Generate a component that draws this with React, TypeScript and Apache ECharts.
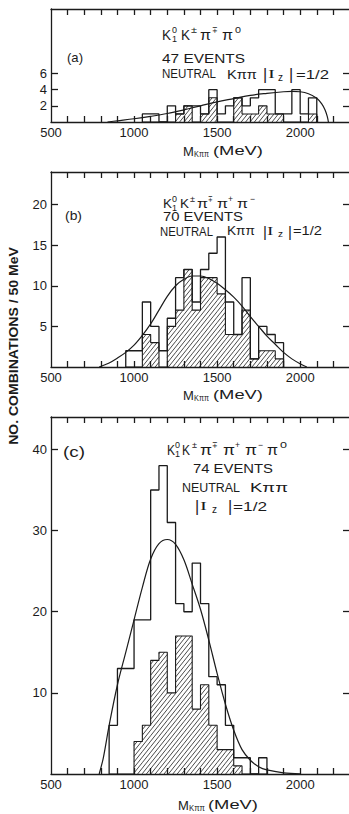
import React, { useEffect, useRef } from 'react';
import * as echarts from 'echarts';

const INK = '#1b1b1b';
const FONT = 'Liberation Sans';
const BIN_WIDTH = 50;

// ---- x axis (MeV) ----
const X_MIN = 500;
const X_MAX = 2300;
const xTickValues = [600, 700, 800, 900, 1000, 1100, 1200, 1300, 1400, 1500, 1600, 1700, 1800, 1900, 2000, 2100, 2200];
const xLabelValues = [500, 1000, 1500, 2000];

// ---- panel (a): K1 K pi pi pi0, 47 events ----
const binsA = [1050, 1100, 1150, 1200, 1250, 1300, 1350, 1400, 1450, 1500, 1550, 1600, 1650, 1700, 1750, 1800, 1850, 1900, 1950, 2000, 2050];
const totalA = [1, 1, 0, 2, 1, 2, 2, 1, 4, 1, 2, 3, 2, 3, 4, 4, 1, 1, 4, 1, 3];
const hatchA = [0, 0, 0, 0, 1, 2, 0, 1, 3, 0, 0, 3, 1, 1, 2, 1, 1, 0, 0, 0, 1];
const fitMassA = [840, 900, 1000, 1100, 1200, 1300, 1400, 1500, 1600, 1700, 1800, 1900, 1950, 2000, 2050, 2100, 2130, 2150, 2163, 2170];
const fitCountA = [0, 0.15, 0.4, 0.7, 1.05, 1.5, 2.0, 2.5, 2.9, 3.3, 3.55, 3.75, 3.8, 3.75, 3.5, 2.95, 2.25, 1.5, 0.7, 0];
const yTicksA = [2, 4, 6];
const yMaxA = 14;

// ---- panel (b): K1 K pi pi+ pi-, 70 events ----
const binsB = [950, 1000, 1050, 1100, 1150, 1200, 1250, 1300, 1350, 1400, 1450, 1500, 1550, 1600, 1650, 1700, 1750, 1800, 1850];
const totalB = [2, 2, 8, 5, 2, 6, 11, 12, 8, 12, 14, 16, 8, 4, 11, 1, 5, 4, 3];
const hatchB = [0, 0, 4, 3, 0, 5, 7, 12, 7, 11, 11, 9, 4, 4, 7, 1, 2, 2, 1];
const fitMassB = [790, 850, 900, 950, 1000, 1050, 1100, 1150, 1200, 1250, 1300, 1350, 1400, 1450, 1500, 1550, 1600, 1650, 1700, 1750, 1800, 1850, 1900, 1950, 2000, 2040];
const fitCountB = [0, 0.5, 1.1, 1.8, 2.7, 3.9, 5.3, 7.0, 8.7, 10.0, 10.8, 11.2, 11.2, 10.9, 10.3, 9.5, 8.6, 7.5, 6.2, 5.0, 3.8, 2.8, 1.8, 1.0, 0.4, 0];
const yTicksB = [5, 10, 15, 20];
const yMaxB = 24;

// ---- panel (c): K1 K pi pi+ pi- pi0, 74 events ----
const binsC = [850, 900, 950, 1000, 1050, 1100, 1150, 1200, 1250, 1300, 1350, 1400, 1450, 1500, 1550, 1600, 1650, 1700, 1750];
const totalC = [6, 13, 13, 19, 19, 35, 38, 31, 21, 20, 26, 21, 12, 11, 6, 2, 2, 0, 2];
const hatchC = [0, 0, 0, 4, 6, 14, 15, 10, 17, 17, 8, 11, 6, 3, 3, 1, 0, 0, 0];
const fitMassC = [790, 815, 850, 900, 950, 1000, 1050, 1100, 1150, 1200, 1250, 1300, 1350, 1400, 1450, 1500, 1550, 1600, 1650, 1700, 1750, 1800, 1900, 2000];
const fitCountC = [0, 2, 6, 11, 15, 19, 23, 26.5, 28.4, 28.9, 28.3, 26.4, 23.4, 20.3, 16.5, 12.4, 8.6, 5.4, 3.0, 1.7, 0.9, 0.5, 0.15, 0.02];
const yTicksC = [10, 20, 30, 40];
const yMaxC = 44;

// ---- helpers ----
function stepPoints(bins: number[], counts: number[]) {
  const pts: number[][] = [[bins[0], 0]];
  bins.forEach((b, i) => {
    pts.push([b, counts[i]]);
    pts.push([b + BIN_WIDTH, counts[i]]);
  });
  pts.push([bins[bins.length - 1] + BIN_WIDTH, 0]);
  return pts;
}

const HATCH_STEP = 4.4;
const HATCH_SLOPE = 1.25;
function renderHatch(params: any, api: any) {
  const x0 = api.value(0);
  const v = api.value(1);
  if (!v) return null;
  const pA = api.coord([x0, 0]);
  const pB = api.coord([x0 + BIN_WIDTH, v]);
  const a = pA[0], b = pB[0], B = pA[1], t = pB[1];
  const s = HATCH_SLOPE;
  const cMin = a + t / s;
  const cMax = b + B / s;
  const children: any[] = [];
  for (let k = Math.ceil(cMin / HATCH_STEP); k * HATCH_STEP <= cMax; k++) {
    const c = k * HATCH_STEP;
    const xl = Math.max(a, c - B / s);
    const xh = Math.min(b, c - t / s);
    if (xh - xl > 0.3) {
      children.push({
        type: 'line',
        shape: { x1: xl, y1: s * (c - xl), x2: xh, y2: s * (c - xh) },
        style: { stroke: INK, lineWidth: 0.8 },
      });
    }
  }
  return { type: 'group', children };
}

let measureCtx: CanvasRenderingContext2D | null = null;
function measure(text: string, font: string) {
  if (!measureCtx) measureCtx = document.createElement('canvas').getContext('2d');
  if (!measureCtx) return text.length * 7;
  measureCtx.font = font;
  return measureCtx.measureText(text).width || 1;
}

function T(text: string, x1: number, x2: number | null, yc: number, size: number, family = FONT, weight = 'normal') {
  const font = `${weight} ${size}px "${family}"`;
  let sx = 1;
  if (x2 != null) {
    sx = (x2 - x1) / measure(text, font);
    sx = Math.max(0.6, Math.min(1.6, sx));
  }
  return {
    type: 'text',
    x: x1,
    y: yc,
    scaleX: sx,
    silent: true,
    style: { text, font, fill: INK, textAlign: 'left', textVerticalAlign: 'middle' },
  };
}

function formula(spec: any[], yc: number, size: number) {
  const els: any[] = [];
  spec.forEach((g) => {
    els.push(T(g.m, g.mx[0], g.mx[1], yc, size));
    if (g.sup) els.push(T(g.sup, g.sx[0], g.sx[1], yc - 5, 9));
    if (g.sub) els.push(T(g.sub, g.sx[0], null, yc + 4, 9));
  });
  return els;
}

function iz(xBar1: number, xI: number[], xz: number[], xBar2: number, xEq: number[], yc: number, size: number) {
  return [
    T('|', xBar1, null, yc, size + 3),
    T('I', xI[0], xI[1], yc, size, 'Liberation Serif'),
    T('z', xz[0], xz[1], yc + 3, size - 3),
    T('|', xBar2, null, yc, size + 3),
    T('=1/2', xEq[0], xEq[1], yc, size),
  ];
}

function massTitle(xm: number, xs: number[], xu: number[], yc: number) {
  return [
    T('M', xm, null, yc, 13),
    T('Kππ', xs[0], xs[1], yc + 3, 9),
    T('(MeV)', xu[0], xu[1], yc, 12),
  ];
}

const App: React.FC = () => {
  const ref = useRef<HTMLDivElement>(null);

  useEffect(() => {
    if (!ref.current) return;
    const chart = echarts.init(ref.current, null, { renderer: 'svg' });

    const panels = [
      { top: 9, height: 113, yMax: yMaxA, yTicks: yTicksA, bins: binsA, total: totalA, hatch: hatchA, fx: fitMassA, fy: fitCountA },
      { top: 172, height: 195, yMax: yMaxB, yTicks: yTicksB, bins: binsB, total: totalB, hatch: hatchB, fx: fitMassB, fy: fitCountB },
      { top: 417, height: 357, yMax: yMaxC, yTicks: yTicksC, bins: binsC, total: totalC, hatch: hatchC, fx: fitMassC, fy: fitCountC },
    ];

    const grid: any[] = [];
    const xAxis: any[] = [];
    const yAxis: any[] = [];
    const series: any[] = [];
    const labelStyle = { color: INK, fontSize: 13, fontFamily: FONT };
    const lineStyle = { color: INK, width: 1.3 };
    const plain = (v: number) => String(v);

    panels.forEach((p, i) => {
      grid.push({ left: 51, top: p.top, width: 299, height: p.height, containLabel: false, outerBoundsMode: 'none' });
      xAxis.push({
        type: 'value', gridIndex: i, position: 'bottom', min: X_MIN, max: X_MAX,
        axisLine: { show: true, onZero: false, lineStyle },
        axisTick: { show: true, inside: true, length: 6, customValues: xTickValues, lineStyle },
        axisLabel: { show: true, customValues: xLabelValues, margin: 4, formatter: plain, ...labelStyle },
        splitLine: { show: false },
      });
      xAxis.push({
        type: 'value', gridIndex: i, position: 'top', min: X_MIN, max: X_MAX,
        axisLine: { show: true, onZero: false, lineStyle },
        axisTick: { show: true, inside: true, length: 6, customValues: xTickValues, lineStyle },
        axisLabel: { show: false },
        splitLine: { show: false },
      });
      yAxis.push({
        type: 'value', gridIndex: i, position: 'left', min: 0, max: p.yMax,
        axisLine: { show: true, onZero: false, lineStyle },
        axisTick: { show: true, inside: true, length: 7, customValues: p.yTicks, lineStyle },
        axisLabel: { show: true, customValues: p.yTicks, margin: 4, formatter: plain, ...labelStyle },
        splitLine: { show: false },
      });
      yAxis.push({
        type: 'value', gridIndex: i, position: 'right', min: 0, max: p.yMax,
        axisLine: { show: true, onZero: false, lineStyle },
        axisTick: { show: true, inside: true, length: 7, customValues: p.yTicks, lineStyle },
        axisLabel: { show: false },
        splitLine: { show: false },
      });

      const xi = 2 * i;
      const yi = 2 * i;
      series.push({
        type: 'custom', name: `hatch${i}`, xAxisIndex: xi, yAxisIndex: yi,
        renderItem: renderHatch, silent: true,
        data: p.bins.map((b, k) => [b, p.hatch[k]]),
        encode: { x: 0, y: 1 },
      });
      series.push({
        type: 'line', name: `hatchOutline${i}`, xAxisIndex: xi, yAxisIndex: yi,
        data: stepPoints(p.bins, p.hatch), symbol: 'none', silent: true,
        lineStyle: { color: INK, width: 1.1 },
      });
      series.push({
        type: 'line', name: `total${i}`, xAxisIndex: xi, yAxisIndex: yi,
        data: stepPoints(p.bins, p.total), symbol: 'none', silent: true,
        lineStyle: { color: INK, width: 1.3 },
      });
      series.push({
        type: 'line', name: `fit${i}`, xAxisIndex: xi, yAxisIndex: yi,
        data: p.fx.map((x, k) => [x, p.fy[k]]), symbol: 'none', silent: true,
        smooth: 0.35, lineStyle: { color: INK, width: 1.2 },
      });
    });

    const graphic: any[] = [
      // panel (a)
      T('(a)', 67, 83, 58, 13),
      ...formula([
        { m: 'K', mx: [162, 171], sup: '0', sub: '1', sx: [172, 177] },
        { m: 'K', mx: [181, 190], sup: '±', sx: [191, 197] },
        { m: 'π', mx: [200, 211], sup: '∓', sx: [212, 218] },
        { m: 'π', mx: [222, 233], sup: '0', sx: [235, 241] },
      ], 35, 14),
      T('47 EVENTS', 162, 245, 58, 13),
      T('NEUTRAL', 162, 216, 74, 13),
      T('Kππ', 227, 257, 74, 13),
      ...iz(263, [268, 277], [278, 283], 289, [296, 329], 74, 13),
      ...massTitle(183, [194, 209], [213, 263], 151),

      // panel (b)
      T('(b)', 65, 82, 216, 13),
      ...formula([
        { m: 'K', mx: [163, 172], sup: '0', sub: '1', sx: [172, 177] },
        { m: 'K', mx: [180, 189], sup: '±', sx: [190, 195] },
        { m: 'π', mx: [197, 208], sup: '∓', sx: [208, 213] },
        { m: 'π', mx: [217, 228], sup: '+', sx: [228, 233] },
        { m: 'π', mx: [237, 248], sup: '−', sx: [250, 255] },
      ], 204, 13),
      T('70 EVENTS', 163, 243, 217, 12),
      T('NEUTRAL', 160, 213, 231, 12),
      T('Kππ', 227, 255, 231, 12),
      ...iz(263, [267, 277], [278, 283], 288, [293, 322], 231, 12),
      ...massTitle(183, [194, 209], [213, 263], 395),

      // panel (c)
      T('(c)', 63, 85, 452, 14),
      ...formula([
        { m: 'K', mx: [167, 175], sup: '0', sub: '1', sx: [175, 180] },
        { m: 'K', mx: [182, 190], sup: '±', sx: [192, 197] },
        { m: 'π', mx: [200, 212], sup: '∓', sx: [212, 218] },
        { m: 'π', mx: [223, 235], sup: '+', sx: [235, 240] },
        { m: 'π', mx: [245, 257], sup: '−', sx: [258, 263] },
        { m: 'π', mx: [267, 278], sup: '0', sx: [280, 287] },
      ], 450, 14),
      T('74 EVENTS', 193, 273, 468, 13),
      T('NEUTRAL', 182, 240, 487, 13),
      T('Kππ', 250, 288, 487, 13),
      ...iz(195, [200, 210], [212, 217], 228, [233, 267], 506, 13),
      ...massTitle(178, [189, 205], [208, 258], 805),
    ];

    // y axis title (rotated)
    const yTitle = 'NO. COMBINATIONS / 50 MeV';
    const yFont = `bold 12px "${FONT}"`;
    const ysx = 198 / measure(yTitle, yFont);
    graphic.push({
      type: 'text', x: 14, y: 346, rotation: Math.PI / 2, scaleX: ysx, silent: true,
      style: { text: yTitle, font: yFont, fill: INK, textAlign: 'center', textVerticalAlign: 'middle' },
    });

    chart.setOption({
      animation: false,
      backgroundColor: '#ffffff',
      grid, xAxis, yAxis, series, graphic,
    });

    return () => chart.dispose();
  }, []);

  return (
    <div
      ref={ref}
      style={{ position: 'fixed', left: 0, top: 0, width: 349, height: 814, background: '#fff' }}
    />
  );
};

export default App;
